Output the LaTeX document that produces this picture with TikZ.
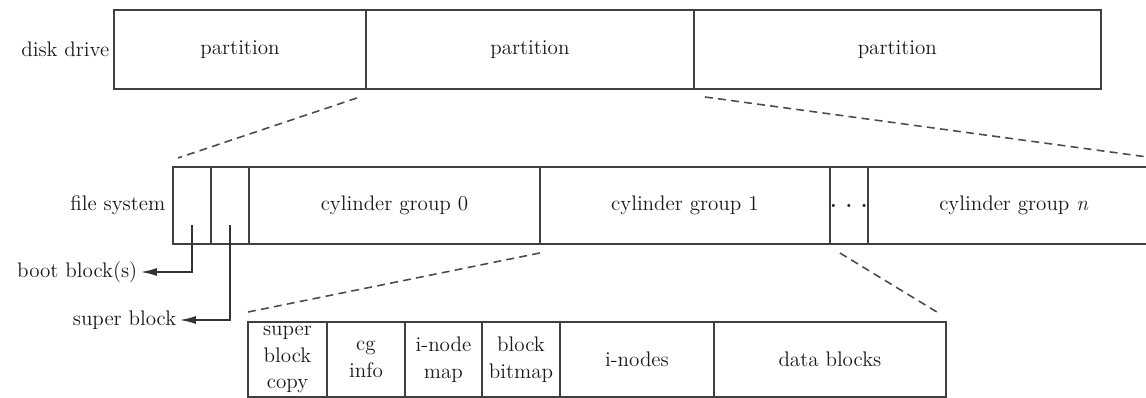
\documentclass[tikz,border=0pt]{standalone}
\usepackage{tikz}
\usetikzlibrary{arrows.meta, positioning, calc}

\begin{document}
\begin{tikzpicture}[
    x=0.02cm, y=-0.02cm,
    line width=0.9pt,
    every node/.style={font=\fontsize{12}{15.3}\selectfont, text=black!90},
    cell/.style={draw=black!75, rectangle, inner sep=0pt, outer sep=0pt, align=center},
    toprow/.style={cell, minimum height=1.58cm},
    midrow/.style={cell, minimum height=1.54cm},
    botrow/.style={cell, minimum height=1.5cm},
    lbl/.style={inner sep=0pt},
    zoomline/.style={draw=black!70, dash pattern=on 4.5pt off 3pt},
    pointer/.style={draw=black!80, line width=0.8pt, -{Latex[length=9pt, width=4.5pt]}}
]
\useasboundingbox (0,0) rectangle (1146,398);
\clip (0,0) rectangle (1146,398);

% disk drive
\node (p1) [toprow, minimum width=5.04cm, anchor=north west] at (114,10) {partition};
\node (p2) [toprow, minimum width=6.56cm, right=0pt of p1] {partition};
\node (p3) [toprow, minimum width=8.14cm, right=0pt of p2] {partition};
\node (disk) [lbl, left=0.08cm of p1] {disk drive};

% file system
\node (bb) [midrow, minimum width=0.76cm, anchor=north west] at (173,167) {};
\node (sb) [midrow, minimum width=0.76cm, right=0pt of bb] {};
\node (cg0) [midrow, minimum width=5.82cm, right=0pt of sb] {cylinder group 0};
\node (cg1) [midrow, minimum width=5.8cm, right=0pt of cg0] {cylinder group 1};
\node (dots) [midrow, minimum width=0.76cm, right=0pt of cg1] {\textbf{.}\hspace{5pt}\textbf{.}\hspace{5pt}\textbf{.}};
\node (cgn) [midrow, minimum width=5.84cm, right=0pt of dots] {cylinder group \textit{n}};
\node (fs) [lbl, left=0.14cm of bb] {file system};

% cylinder group
\node (sbc) [botrow, minimum width=1.58cm, anchor=north west] at (248,322) {super\\block\\copy};
\node (cgi) [botrow, minimum width=1.56cm, right=0pt of sbc] {cg\\info};
\node (imap) [botrow, minimum width=1.54cm, right=0pt of cgi] {i-node\\map};
\node (bmap) [botrow, minimum width=1.56cm, right=0pt of imap] {block\\bitmap};
\node (inodes) [botrow, minimum width=3.08cm, right=0pt of bmap] {i-nodes};
\node (data) [botrow, minimum width=4.64cm, right=0pt of inodes] {data blocks};

% pointers
\node (boot) [lbl, anchor=east] at (138,272) {boot block(s)};
\node (super) [lbl, anchor=east] at (177,320) {super block};
\coordinate (bbtail) at ($(bb.south)+(0,-19)$);
\coordinate (sbtail) at ($(sb.south)+(0,-19)$);
\draw[pointer] (bbtail) |- ($(boot.east)+(3,0)$);
\draw[pointer] (sbtail) |- ($(super.east)+(3,0)$);

% zoom lines
\draw[zoomline] ($(p2.south west)+(-9,9)$) -- ($(bb.north west)+(5,-9)$);
\draw[zoomline] ($(p3.south west)+(11,8)$) -- ($(cgn.north east)+(-5,-9)$);
\draw[zoomline] ($(cg1.south west)+(0,9)$) -- ($(sbc.north west)+(0,-10)$);
\draw[zoomline] ($(dots.south west)+(10,9)$) -- ($(data.north east)+(-9,-10)$);

\end{tikzpicture}
\end{document}
